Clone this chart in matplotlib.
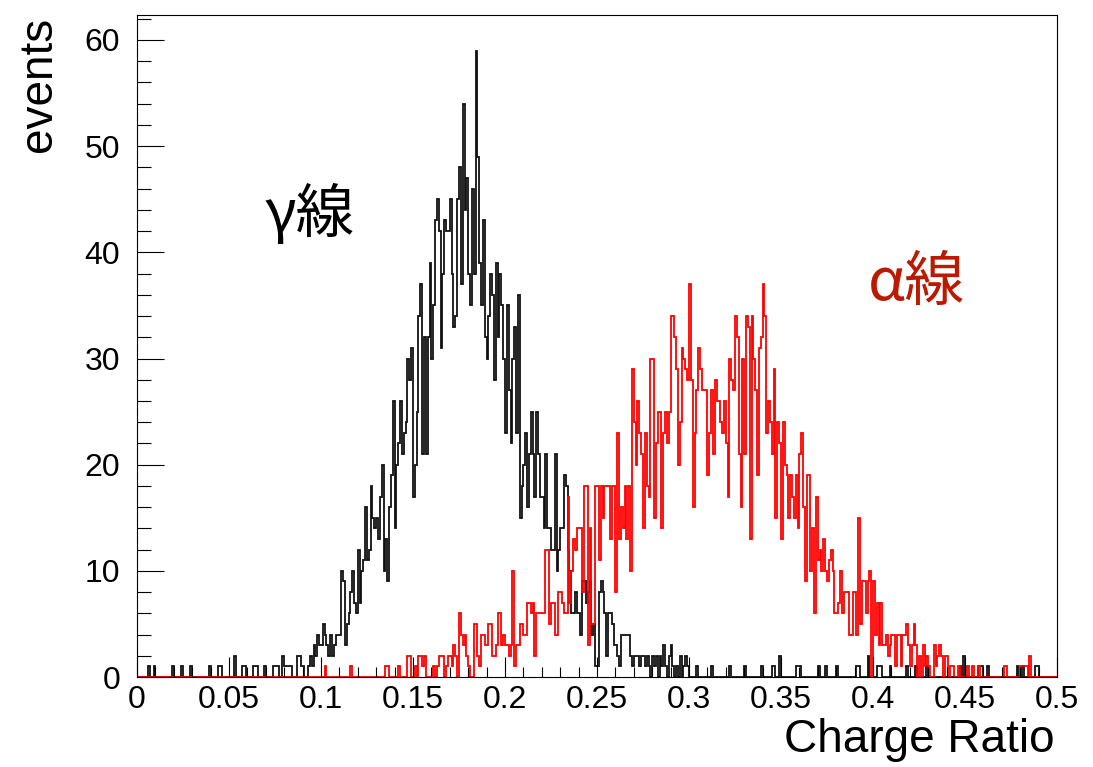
import numpy as np
import matplotlib
matplotlib.use("Agg")
import matplotlib.pyplot as plt
from matplotlib.ticker import MultipleLocator

plt.rcParams['font.family'] = ['Liberation Sans', 'Noto Sans CJK JP', 'DejaVu Sans']

# histogram: 500 bins between 0 and 0.5
x_min, x_max, n_bins = 0.0, 0.5, 500

gamma_counts = [
    0, 0, 0, 0, 0, 0, 1, 0, 0, 1,
    0, 0, 0, 0, 0, 0, 0, 0, 0, 1,
    0, 0, 0, 0, 1, 0, 0, 0, 0, 1,
    0, 0, 0, 0, 0, 0, 0, 0, 0, 1,
    0, 0, 0, 0, 1, 1, 0, 0, 0, 0,
    0, 0, 0, 2, 0, 0, 0, 1, 1, 0,
    0, 0, 0, 1, 1, 1, 0, 0, 0, 1,
    0, 0, 0, 0, 1, 1, 1, 0, 0, 2,
    1, 1, 1, 1, 0, 0, 0, 2, 2, 1,
    1, 0, 0, 1, 2, 1, 3, 2, 4, 3,
    3, 5, 4, 3, 2, 4, 2, 3, 4, 4,
    4, 10, 9, 3, 5, 6, 8, 10, 7, 6,
    12, 7, 10, 11, 16, 11, 12, 18, 15, 14,
    15, 13, 17, 20, 10, 13, 9, 16, 19, 26,
    14, 20, 22, 26, 21, 23, 24, 30, 28, 31,
    17, 20, 25, 34, 37, 21, 32, 21, 32, 39,
    30, 35, 43, 45, 42, 31, 38, 43, 42, 42,
    45, 38, 33, 34, 45, 48, 37, 54, 44, 47,
    38, 35, 46, 38, 59, 49, 39, 35, 43, 32,
    30, 34, 38, 36, 28, 39, 32, 38, 35, 30,
    23, 35, 27, 22, 30, 33, 23, 36, 15, 18,
    20, 23, 16, 21, 25, 21, 17, 25, 21, 17,
    17, 14, 21, 14, 14, 12, 12, 21, 10, 12,
    14, 14, 19, 18, 12, 10, 6, 6, 8, 6,
    6, 4, 9, 9, 7, 8, 9, 4, 5, 1,
    1, 8, 9, 8, 6, 2, 6, 6, 5, 3,
    3, 2, 1, 4, 4, 4, 4, 4, 2, 1,
    2, 2, 2, 1, 2, 2, 1, 2, 1, 0,
    2, 1, 2, 0, 2, 1, 3, 1, 0, 2,
    3, 1, 0, 1, 0, 2, 0, 1, 2, 1,
    0, 0, 0, 0, 1, 0, 0, 0, 0, 0,
    0, 0, 1, 0, 0, 0, 0, 0, 0, 0,
    0, 0, 1, 0, 0, 0, 0, 0, 0, 0,
    1, 0, 0, 0, 0, 0, 0, 0, 0, 1,
    0, 0, 0, 0, 0, 1, 1, 0, 0, 2,
    0, 0, 0, 0, 0, 0, 0, 0, 1, 1,
    1, 0, 0, 0, 0, 0, 0, 0, 0, 0,
    1, 0, 0, 0, 1, 0, 0, 0, 0, 0,
    1, 0, 0, 0, 0, 0, 0, 0, 0, 0,
    0, 1, 1, 0, 0, 0, 0, 2, 0, 0,
    0, 0, 1, 1, 1, 0, 0, 0, 0, 1,
    0, 0, 0, 0, 0, 0, 0, 0, 1, 0,
    0, 0, 0, 1, 0, 0, 0, 0, 0, 1,
    0, 0, 0, 0, 0, 0, 0, 0, 0, 0,
    0, 0, 0, 0, 0, 0, 0, 1, 0, 2,
    0, 0, 0, 0, 0, 0, 0, 1, 1, 1,
    0, 0, 1, 0, 0, 0, 0, 0, 0, 0,
    0, 0, 0, 0, 0, 0, 0, 0, 1, 0,
    0, 1, 0, 0, 0, 0, 0, 0, 1, 1,
    0, 0, 0, 0, 0, 0, 0, 0, 0, 0,
]

alpha_counts = [0] * 100 + [
    0, 0, 1, 0, 0, 0, 0, 0, 0, 0,
    0, 0, 0, 0, 0, 0, 1, 0, 0, 0,
    0, 0, 0, 0, 0, 0, 0, 0, 0, 0,
    0, 0, 0, 0, 0, 1, 1, 0, 0, 0,
    0, 0, 1, 0, 0, 0, 0, 2, 2, 0,
    0, 1, 0, 2, 2, 1, 2, 0, 0, 0,
    0, 1, 0, 1, 2, 2, 2, 0, 1, 2,
    2, 1, 3, 2, 0, 6, 4, 3, 4, 2,
    1, 0, 0, 5, 5, 2, 1, 4, 4, 3,
    3, 5, 5, 2, 2, 3, 6, 6, 3, 4,
    3, 3, 2, 3, 10, 1, 3, 3, 5, 5,
    4, 4, 7, 7, 6, 7, 2, 6, 6, 6,
    6, 6, 12, 12, 5, 7, 7, 4, 4, 8,
    8, 7, 6, 6, 17, 7, 10, 13, 12, 14,
    14, 14, 8, 18, 18, 3, 14, 5, 5, 18,
    18, 11, 18, 15, 18, 18, 18, 13, 18, 18,
    8, 23, 13, 16, 14, 18, 13, 18, 10, 29,
    24, 20, 26, 23, 21, 14, 23, 18, 17, 30,
    30, 15, 22, 25, 25, 14, 23, 25, 22, 25,
    34, 34, 32, 29, 20, 24, 31, 30, 29, 28,
    37, 28, 16, 23, 27, 31, 29, 27, 27, 27,
    19, 23, 27, 21, 28, 26, 26, 24, 23, 26,
    22, 17, 30, 28, 27, 34, 32, 21, 16, 30,
    21, 34, 33, 13, 34, 30, 27, 19, 31, 32,
    37, 34, 23, 26, 24, 21, 29, 15, 24, 22,
    13, 24, 20, 19, 15, 19, 17, 15, 19, 14,
    21, 23, 16, 9, 19, 19, 10, 14, 6, 17,
    11, 12, 10, 13, 10, 9, 11, 12, 10, 6,
    6, 7, 10, 6, 8, 8, 8, 4, 4, 8,
    8, 4, 15, 5, 9, 9, 6, 9, 10, 0,
    9, 4, 7, 3, 7, 3, 3, 4, 2, 3,
    4, 4, 1, 4, 4, 1, 4, 4, 5, 3,
    1, 3, 5, 3, 0, 2, 0, 3, 1, 2,
    1, 0, 0, 3, 1, 2, 3, 2, 0, 2,
    2, 0, 1, 1, 0, 0, 1, 0, 0, 0,
    0, 1, 0, 0, 1, 0, 0, 1, 0, 0,
    0, 0, 0, 0, 0, 0, 0, 0, 0, 0,
    0, 1, 1, 0, 0, 0, 0, 0, 0, 0,
    1, 1, 1, 1, 0, 2, 0, 0, 0, 0,
    0, 0, 0, 0, 0, 0, 0, 0, 0, 0,
]

edges = np.linspace(x_min, x_max, n_bins + 1)

fig = plt.figure(figsize=(10.93, 7.67), dpi=100)
ax = fig.add_axes([0.1253, 0.1173, 0.8418, 0.8631])

ax.stairs(gamma_counts, edges, color='#111111', linewidth=1.3)
ax.stairs(alpha_counts, edges, color='#ff0000', linewidth=1.3)

ax.set_xlim(x_min, x_max)
ax.set_ylim(0, 62.35)

ax.xaxis.set_minor_locator(MultipleLocator(0.01))
ax.yaxis.set_major_locator(MultipleLocator(10))
ax.yaxis.set_minor_locator(MultipleLocator(2))
ax.set_xticks(np.arange(0, 0.51, 0.05))
ax.set_xticklabels(['0', '0.05', '0.1', '0.15', '0.2', '0.25', '0.3', '0.35', '0.4', '0.45', '0.5'])

ax.tick_params(axis='x', which='major', direction='in', length=14.5, width=0.8,
               labelsize=23, pad=6)
ax.tick_params(axis='x', which='minor', direction='in', length=7.2, width=0.8)
ax.tick_params(axis='y', which='major', direction='in', length=19.5, width=0.8,
               labelsize=23, pad=12)
ax.tick_params(axis='y', which='minor', direction='in', length=10, width=0.8)
for sp in ax.spines.values():
    sp.set_linewidth(0.8)

ax.text(0.0696, 43.5, 'γ線', fontsize=42, color='black', va='center', ha='left',
        family=['Noto Sans CJK JP', 'DejaVu Sans'])
ax.text(0.397, 37.1, 'α線', fontsize=43, color='#bb1a00', va='center', ha='left',
        family=['Noto Sans CJK JP', 'DejaVu Sans'])

fig.text(0.036, 0.978, 'events', rotation=90, fontsize=33, ha='center', va='top')
fig.text(0.965, 0.0196, 'Charge Ratio', fontsize=33, ha='right', va='baseline')

fig.savefig('out.png', dpi=100)
